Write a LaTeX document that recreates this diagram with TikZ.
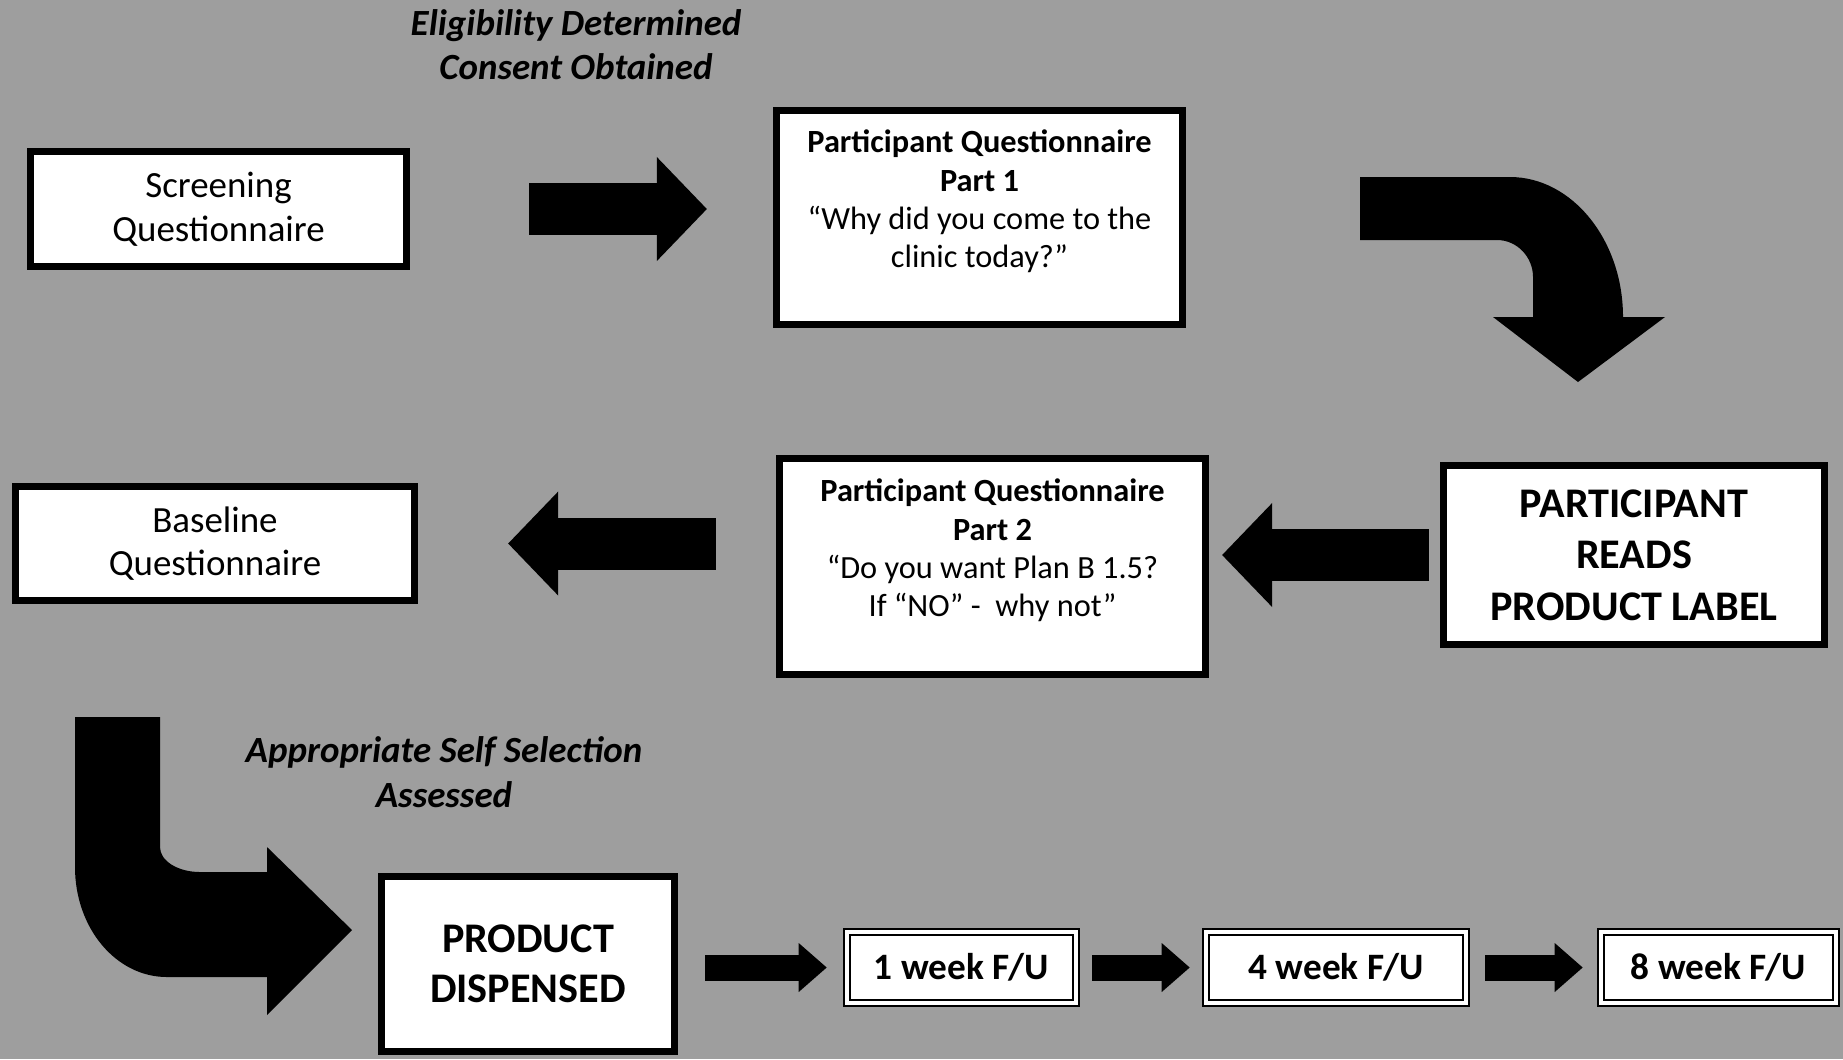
\documentclass[tikz,border=0pt]{standalone}
\usepackage{fontspec}
\setmainfont{Carlito}
\usepackage{tikz}
\usetikzlibrary{arrows.meta, positioning, calc}
\definecolor{scan}{gray}{0.62}

\tikzset{
  box/.style={draw=black, line width=0.07cm, fill=white, align=center, inner sep=0pt},
  fubox/.style={draw=black, double=white, double distance=0.035cm, line width=0.025cm, fill=white,
    minimum height=0.71cm, inner sep=0pt, font=\fontsize{10.6}{12.8}\selectfont\bfseries},
  note/.style={align=center, font=\fontsize{10.5}{12.6}\selectfont\bfseries\itshape},
  bigarr/.style={line width=0.52cm, -{Triangle[length=0.5cm, width=1.04cm, line width=0pt 0 0]}},
  smallarr/.style={line width=0.26cm, -{Triangle[length=0.28cm, width=0.49cm, line width=0pt 0 0]}},
  curvearr/.style={fill=black}
}

\begin{document}
\begin{tikzpicture}[x=0.01cm, y=-0.01cm]
\useasboundingbox (0,0) rectangle (1843,1059);
\fill[scan] (0,0) rectangle (1843,1059);

% First row
\node[note] (elig) at (576,45) {Eligibility Determined\\Consent Obtained};
\node[box, minimum width=3.76cm, minimum height=1.15cm, font=\fontsize{10.5}{12.4}\selectfont] (scr) at (218.5,209) {Screening\\Questionnaire};
\node[box, minimum width=4.06cm, minimum height=2.14cm, font=\fontsize{9.2}{10.9}\selectfont] (pq1) at (979.5,217.5)
  {\textbf{Participant Questionnaire}\\\textbf{Part 1}\\“Why did you come to the\\clinic today?”\rule[-0.37cm]{0pt}{0pt}};
\draw[bigarr, shorten <=1.19cm, shorten >=0.66cm] (scr.east) -- (scr.east -| pq1.west);

% turn down to the label box
\fill[curvearr] (1360,177) -- (1510,177) .. controls (1572,177) and (1623,240) .. (1623,317)
  -- (1665,317) -- (1578,382) -- (1493,317) -- (1533,317) -- (1533,277)
  .. controls (1533,257) and (1517,240) .. (1497,240) -- (1360,240) -- cycle;

% Second row
\node[box, minimum width=3.81cm, minimum height=1.79cm, font=\fontsize{12}{14.6}\selectfont\bfseries] (prl) at (1634,555) {PARTICIPANT\\READS\\PRODUCT LABEL};
\node[box, minimum width=4.26cm, minimum height=2.16cm, font=\fontsize{9.2}{10.9}\selectfont] (pq2) at (992.5,566.5)
  {\textbf{Participant Questionnaire}\\\textbf{Part 2}\\“Do you want Plan B 1.5?\\If “NO” -\ \ why not”\rule[-0.37cm]{0pt}{0pt}};
\node[box, minimum width=3.99cm, minimum height=1.14cm, font=\fontsize{10.5}{12.4}\selectfont] (base) at (215,543.5) {Baseline\\Questionnaire};
\draw[bigarr, shorten <=0.11cm, shorten >=0.13cm] (prl.west) -- (prl.west -| pq2.east);
\draw[bigarr, shorten <=0.60cm, shorten >=0.90cm] (base.east -| pq2.west) -- (base.east);

% turn right to the dispensing box
\fill[curvearr] (75,717) -- (160,717) -- (160,847) .. controls (160,861) and (178,872) .. (200,872)
  -- (267,872) -- (267,847) -- (352,930) -- (267,1015) -- (267,977) -- (167,977)
  .. controls (116,977) and (75,928) .. (75,867) -- cycle;
\node[note] (apss) at (444,772) {Appropriate Self Selection\\Assessed};

% Third row
\node[box, minimum width=2.93cm, minimum height=1.75cm, font=\fontsize{12}{14.2}\selectfont\bfseries] (pd) at (528,964) {PRODUCT\\DISPENSED};
\node[fubox, minimum width=2.29cm] (w1) at (961.5,967.5) {1 week F/U};
\node[fubox, minimum width=2.60cm] (w4) at (1336,967.5) {4 week F/U};
\node[fubox, minimum width=2.35cm] (w8) at (1718.5,967.5) {8 week F/U};
\draw[smallarr, shorten <=0.27cm, shorten >=0.19cm] (pd.east |- w1.west) -- (w1.west);
\draw[smallarr, shorten <=0.15cm, shorten >=0.15cm] (w1.east) -- (w4.west);
\draw[smallarr, shorten <=0.18cm, shorten >=0.17cm] (w4.east) -- (w8.west);
\end{tikzpicture}
\end{document}
